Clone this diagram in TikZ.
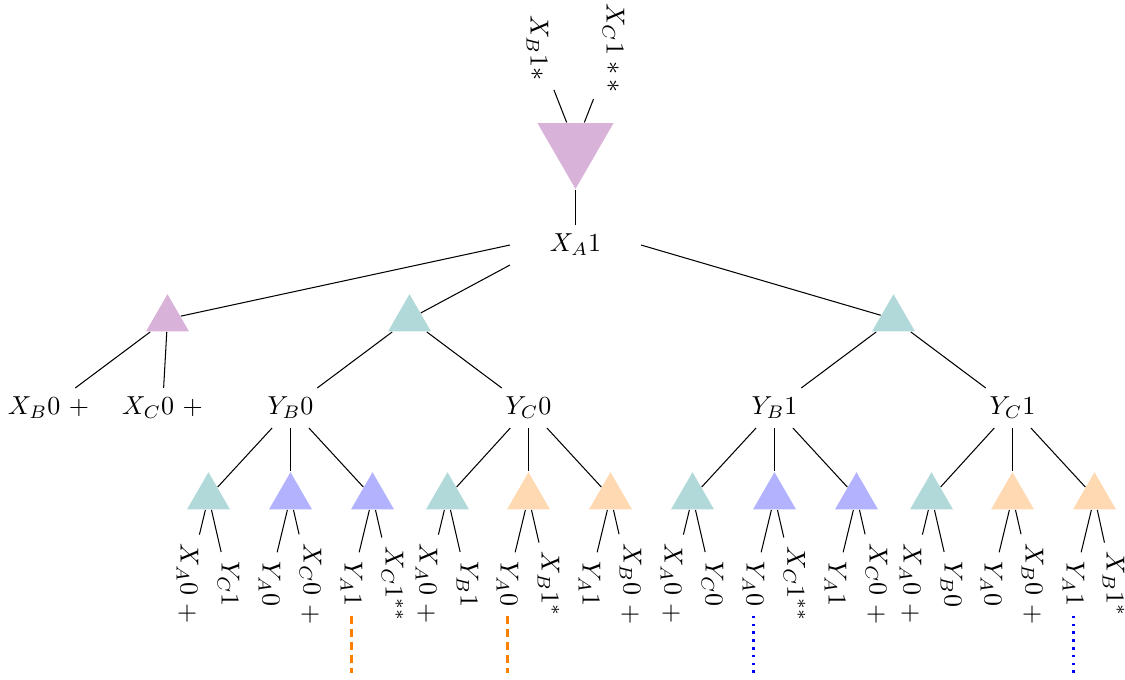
\documentclass[tikz,border=0pt]{standalone}
\usetikzlibrary{shapes.geometric}
\begin{document}
\begin{tikzpicture}[x=0.3846pt,y=-0.3846pt,
  tri/.style={regular polygon, regular polygon sides=3, inner sep=0pt,
    minimum size=19.1pt, fill=#1},
  big tri/.style={regular polygon, regular polygon sides=3,
    shape border rotate=180, inner sep=0pt, minimum size=33.8pt, fill=violet!30},
  vlab/.style={rotate=-90},
  link/.style={draw=black, line width=0.4pt},
  orange trail/.style={orange, line width=1pt, densely dashed},
  blue trail/.style={blue, line width=1pt, dotted}]

\useasboundingbox (-0.5,0) rectangle (1124.5,679);

% root
\node[big tri] (top) at (575,145) {};
\node[vlab] (u1) at (537,48) {$X_B1*$};
\node[vlab] (u2) at (613,48) {$X_C1**$};
\node[minimum width=50pt] (xa) at (575,245) {$X_A1$};
\draw[link] (top) -- (u1);
\draw[link] (top) -- (u2);
\draw[link] (top) -- (xa);

% first level
\node[tri=violet!30] (p1) at (167,319) {};
\node[tri=teal!30] (m1) at (409,319) {};
\node[tri=teal!30] (r1) at (893,319) {};
\draw[link] (xa.west) -- (p1);
\draw[link] (xa.south west) -- (m1);
\draw[link] (xa.east) -- (r1);

\node (xb0) at (48,408) {$X_B0\ +$};
\node (xc0) at (162,408) {$X_C0\ +$};
\node (yb0) at (290,408) {$Y_B0$};
\node (yc0) at (528,408) {$Y_C0$};
\node (yb1) at (774,408) {$Y_B1$};
\node (yc1) at (1012,408) {$Y_C1$};
\draw[link] (p1) -- (xb0);
\draw[link] (p1) -- (xc0);
\draw[link] (m1) -- (yb0);
\draw[link] (m1) -- (yc0);
\draw[link] (r1) -- (yb1);
\draw[link] (r1) -- (yc1);

% second level with leaves
\foreach \i/\x/\c/\p/\la/\lb/\dx in {
  1/208/teal/yb0/{$X_A0\ +$}/{$Y_C1$}/20,
  2/290/blue/yb0/{$Y_A0$}/{$X_C0\ +$}/20,
  3/372/blue/yb0/{$Y_A1$}/{$X_C1^{**}$}/20,
  4/447/teal/yc0/{$X_A0\ +$}/{$Y_B1$}/20,
  5/528/orange/yc0/{$Y_A0$}/{$X_B1^{*}$}/20,
  6/610/orange/yc0/{$Y_A1$}/{$X_B0\ +$}/20,
  7/692/teal/yb1/{$X_A0\ +$}/{$Y_C0$}/20,
  8/774/blue/yb1/{$Y_A0$}/{$X_C1^{**}$}/20,
  9/856/blue/yb1/{$Y_A1$}/{$X_C0\ +$}/20,
  10/931/teal/yc1/{$X_A0\ +$}/{$Y_B0$}/20,
  11/1012/orange/yc1/{$Y_A0$}/{$X_B0\ +$}/20,
  12/1094/orange/yc1/{$Y_A1$}/{$X_B1^{*}$}/19}
{
  \node[tri=\c!30] (t\i) at (\x,497) {};
  \node[vlab] (la\i) at (\x-21,584) {\la};
  \node[vlab] (lb\i) at (\x+\dx,584) {\lb};
  \draw[link] (\p) -- (t\i);
  \draw[link] (t\i) -- (la\i);
  \draw[link] (t\i) -- (lb\i);
}

% trailing paths below selected leaves
\coordinate (e1) at (351,673);
\coordinate (e2) at (507,673);
\coordinate (e3) at (753,673);
\coordinate (e4) at (1073,673);
\draw[orange trail] (la3.east) -- (e1);
\draw[orange trail] (la5.east) -- (e2);
\draw[blue trail] (la8.east) -- (e3);
\draw[blue trail] (la12.east) -- (e4);
\end{tikzpicture}
\end{document}
